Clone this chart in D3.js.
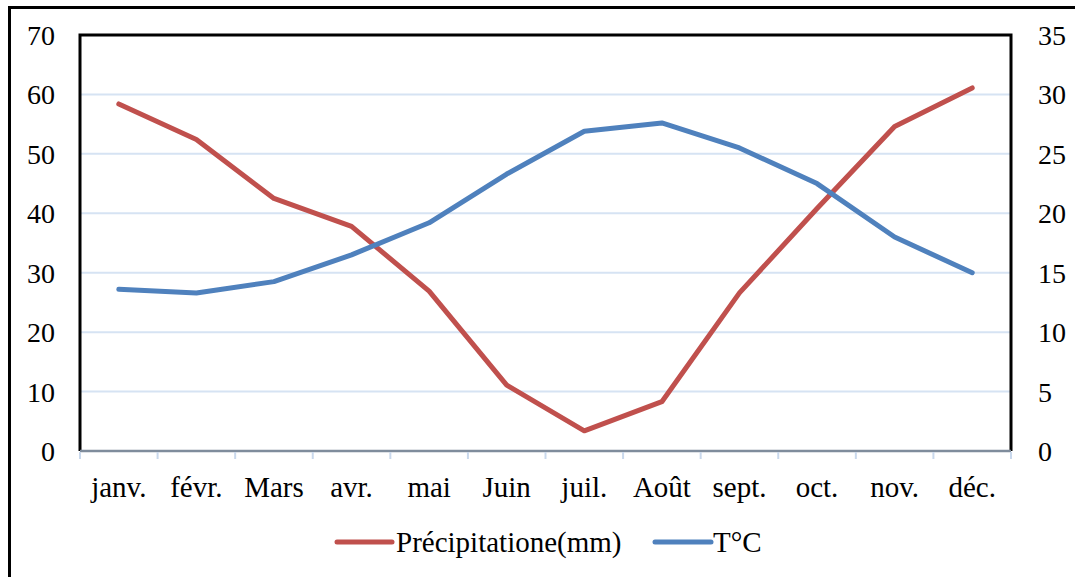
<!DOCTYPE html>
<html><head><meta charset="utf-8">
<script src="https://cdn.jsdelivr.net/npm/d3@7"></script>
<style>body{margin:0;background:#fff}svg{display:block}text{font-family:"Liberation Serif","Times New Roman",serif;fill:#000}</style>
</head><body>
<svg id="c" width="1075" height="577"></svg>
<script>
const months = ["janv.","févr.","Mars","avr.","mai","Juin","juil.","Août","sept.","oct.","nov.","déc."];
const precip = [58.4,52.4,42.5,37.8,26.9,11.1,3.4,8.3,26.6,40.8,54.6,61.1];
const temp = [13.6,13.3,14.25,16.5,19.2,23.3,26.9,27.6,25.5,22.5,18.0,15.0];
const leftTicks = [0,10,20,30,40,50,60,70];
const rightTicks = [0,5,10,15,20,25,30,35];
const seriesNames = ["Précipitatione(mm)","T°C"];
const colors = ["#C0504D","#4F81BD"];

const svg = d3.select("#c");
const L=80, R=1011, T=35, B=451;
const x = d3.scaleBand().domain(months).range([L,R]);
const yL = d3.scaleLinear().domain([0,70]).range([B,T]);
const yR = d3.scaleLinear().domain([0,35]).range([B,T]);

// outer border
svg.append("rect").attr("x",9.5).attr("y",7.5).attr("width",1080).attr("height",600)
  .attr("fill","none").attr("stroke","#000").attr("stroke-width",3);

// gridlines
svg.append("g").selectAll("line").data(leftTicks.filter(d=>d>0&&d<70)).join("line")
  .attr("x1",L).attr("x2",R).attr("y1",d=>yL(d)).attr("y2",d=>yL(d))
  .attr("stroke","#D6E3F3").attr("stroke-width",2);

// plot border top/left/right
svg.append("path").attr("d",`M${L},${B}V${T}H${R}V${B}`).attr("fill","none")
  .attr("stroke","#000").attr("stroke-width",3);

// bottom axis
const gx = svg.append("g").attr("transform",`translate(0,${B})`);
gx.append("line").attr("x1",L).attr("x2",R).attr("y1",0).attr("y2",0).attr("stroke","#7f8c9c").attr("stroke-width",2.5);
const bounds = d3.range(13).map(i=> i<12 ? x(months[i]) : R);
gx.selectAll(".tk").data(bounds).join("line").attr("class","tk")
  .attr("x1",d=>d).attr("x2",d=>d).attr("y1",1).attr("y2",8).attr("stroke","#C9D8EC").attr("stroke-width",2);
gx.selectAll(".ml").data(months).join("text").attr("class","ml")
  .attr("x",d=>x(d)+x.bandwidth()/2).attr("y",46).attr("text-anchor","middle")
  .attr("font-size",29).text(d=>d);

// left / right labels
svg.append("g").selectAll("text").data(leftTicks).join("text")
  .attr("x",55).attr("y",d=>yL(d)+10).attr("text-anchor","end").attr("font-size",28).text(d=>d);
svg.append("g").selectAll("text").data(rightTicks).join("text")
  .attr("x",1038).attr("y",d=>yR(d)+10).attr("text-anchor","start").attr("font-size",28).text(d=>d);

// lines
const cx = d=>x(d)+x.bandwidth()/2;
const lineP = d3.line().x((d,i)=>cx(months[i])).y(d=>yL(d));
const lineT = d3.line().x((d,i)=>cx(months[i])).y(d=>yR(d));
svg.append("path").attr("d",lineP(precip)).attr("fill","none").attr("stroke",colors[0])
  .attr("stroke-width",5).attr("stroke-linecap","round").attr("stroke-linejoin","round");
svg.append("path").attr("d",lineT(temp)).attr("fill","none").attr("stroke",colors[1])
  .attr("stroke-width",5).attr("stroke-linecap","round").attr("stroke-linejoin","round");

// legend
const lg = svg.append("g");
const legItems = [{x1:337,x2:392,tx:396},{x1:655,x2:711,tx:713}];
legItems.forEach((p,i)=>{
  lg.append("line").attr("x1",p.x1).attr("x2",p.x2).attr("y1",542).attr("y2",542)
    .attr("stroke",colors[i]).attr("stroke-width",5).attr("stroke-linecap","round");
  lg.append("text").attr("x",p.tx).attr("y",552).attr("font-size",29).text(seriesNames[i]);
});
</script>
</body></html>
